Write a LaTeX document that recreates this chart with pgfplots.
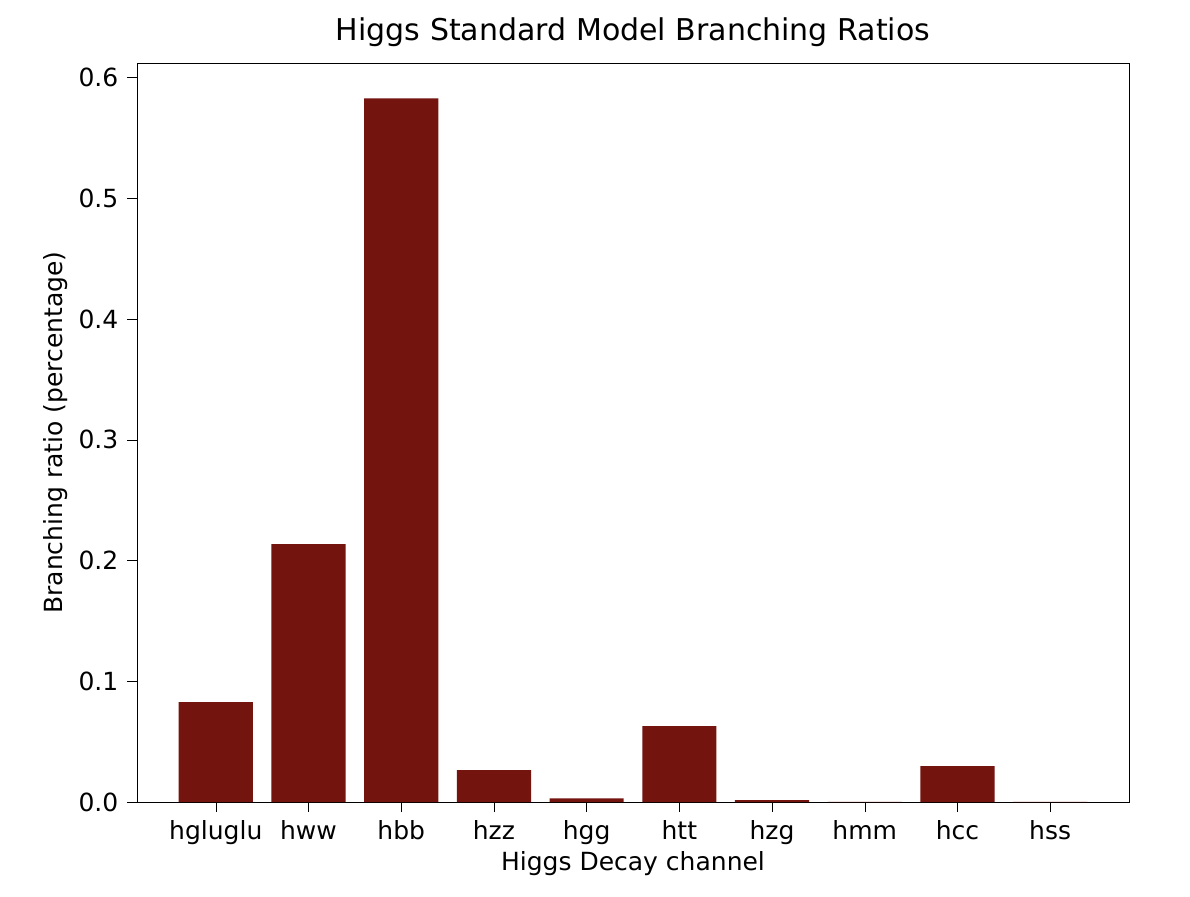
\documentclass[border=0pt]{standalone}
\usepackage{pgfplots}
\pgfplotsset{compat=1.18}
\usepackage{fontspec}
\setmainfont{DejaVu Sans}
\definecolor{bar}{HTML}{73140F}
\begin{document}
\fontsize{12.5pt}{15pt}\selectfont
\begin{tikzpicture}
\useasboundingbox (-68.5pt,-47pt) rectangle (526.5pt,401pt);
\begin{axis}[at={(0,0)},anchor=south west,
scale only axis, width=496pt, height=369.5pt,
xmin=-0.85, xmax=9.85, ymin=0, ymax=0.612,
xtick={0,...,9},
xticklabels={hgluglu,hww,hbb,hzz,hgg,htt,hzg,hmm,hcc,hss},
ytick={0,0.1,0.2,0.3,0.4,0.5,0.6},
yticklabel style={/pgf/number format/.cd,fixed,fixed zerofill,precision=1},
/pgf/number format/assume math mode=true,
tick style={black}, tick align=outside, major tick length=5pt,
xtick pos=bottom, ytick pos=left,
title={Higgs Standard Model Branching Ratios},
title style={font=\fontsize{15pt}{18pt}\selectfont, yshift=-2pt},
xlabel={Higgs Decay channel}, ylabel={Branching ratio (percentage)},
xlabel style={yshift=5pt}, ylabel style={yshift=-3pt},
]
\addplot[ybar, bar width=0.8, fill=bar, draw=none] coordinates {
(0,0.0828) (1,0.2136) (2,0.5828) (3,0.0265) (4,0.0031) (5,0.0629) (6,0.0015) (7,0.0002) (8,0.0298) (9,0.0002)};
\end{axis}
\end{tikzpicture}
\end{document}
